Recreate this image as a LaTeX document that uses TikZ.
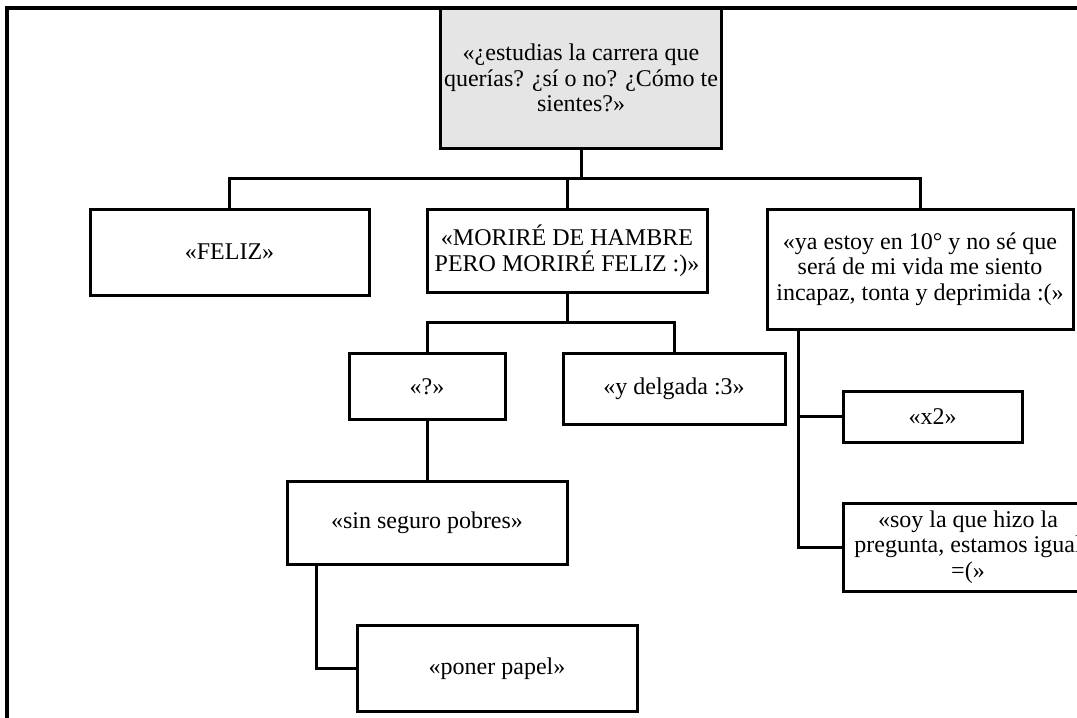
\documentclass[tikz,border=0pt]{standalone}
\usepackage{fontspec}
\setmainfont{Liberation Serif}
\usetikzlibrary{positioning}

\begin{document}
\begin{tikzpicture}[
  x=0.5pt, y=-0.5pt,
  font=\fontsize{12}{12.8}\selectfont,
  line width=1.5pt,
  box/.style   ={rectangle, draw, align=center, inner sep=2pt,
                 minimum width=140pt, minimum height=42pt},
  topbox/.style={box, fill=gray!20, minimum height=70pt}
]
\useasboundingbox (0,0) rectangle (1077,718);

%--- Frame ------------------------------------------------------------------
\draw[line width=1.6pt] (7,730) -- (7,8) -- (1090,8);

%--- Question ---------------------------------------------------------------
\node[topbox] (pregunta) at (581,78) {«¿estudias la carrera que\\
querías? ¿sí o no? ¿Cómo te\\ sientes?»};

%--- First answers ----------------------------------------------------------
\node[box, minimum width=139.5pt, minimum height=43pt] (feliz)
      [below=29pt of pregunta, xshift=-175.75pt] {«FELIZ»};

\node[box, minimum height=41.5pt] (morire)
      [below=29pt of pregunta, xshift=-7pt] {«MORIRÉ DE HAMBRE\\
PERO MORIRÉ FELIZ :)»};

\node[box, minimum width=153pt, minimum height=60pt] (estoy)
      [below=29pt of pregunta, xshift=169.5pt] {«ya estoy en 10° y no sé que\\
será de mi vida me siento\\ incapaz, tonta y deprimida :(»};

%--- Replies ----------------------------------------------------------------
\node[box, minimum width=78pt, minimum height=33pt] (duda)
      [below=29.25pt of morire, xshift=-70pt] {«?»};

\node[box, minimum width=111pt, minimum height=35.5pt] (delgada)
      [below=29.25pt of morire, xshift=53.5pt] {«y delgada :3»};

\node[box, minimum height=41.5pt] (seguro)
      [below=29.5pt of duda] {«sin seguro pobres»};

\node[box, minimum height=43pt] (papel)
      [below=29pt of seguro, xshift=35pt] {«poner papel»};

\node[box, minimum width=89.5pt, minimum height=25.5pt] (x2)
      [below=29.5pt of estoy, xshift=6.25pt] {«x2»};

\node[box, minimum width=125pt, minimum height=44pt] (igual)
      [below=29pt of x2, xshift=17.75pt] {«soy la que hizo la\\
pregunta, estamos igual\\ =(»};

%--- connection -------------------------------------------------------------
\coordinate[below=14.5pt of pregunta.south] (bus1);
\coordinate[below=14.5pt of morire.south]   (bus2);

\draw (pregunta.south) -- (bus1)
      (feliz.north) |- (bus1) -| (estoy.north)
      (morire.north) -- (morire.north |- bus1);

\draw (morire.south) -- (bus2)
      (duda.north) |- (bus2) -| (delgada.north);

\draw (duda.south) -- (seguro.north);
\draw ([xshift=-55.5pt]seguro.south) |- (papel.west);

\draw ([xshift=-61pt]estoy.south) |- (x2.west);
\draw ([xshift=-61pt]estoy.south) |- (igual.west);
\end{tikzpicture}
\end{document}
